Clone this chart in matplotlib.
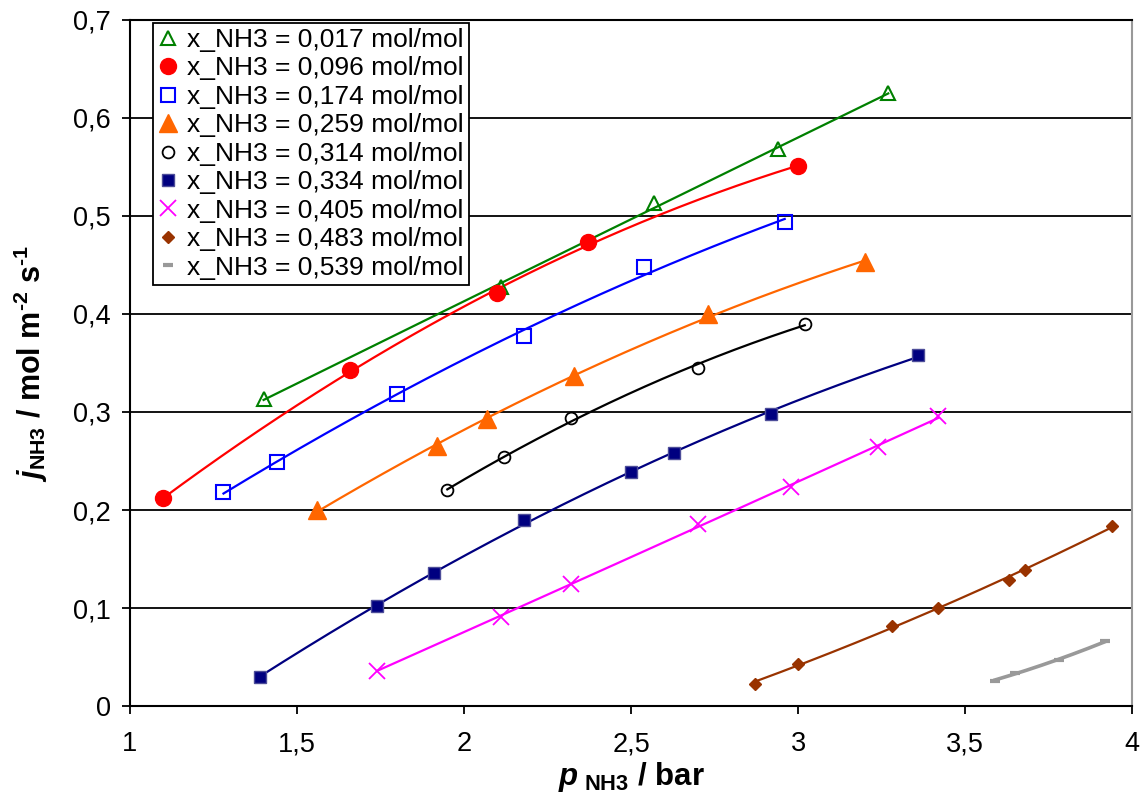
import numpy as np
import matplotlib.pyplot as plt
from matplotlib.ticker import FuncFormatter, MultipleLocator

plt.rcParams['font.family'] = ['Liberation Sans', 'DejaVu Sans']
plt.rcParams['mathtext.fontset'] = 'custom'
plt.rcParams['mathtext.rm'] = 'Liberation Sans'
plt.rcParams['mathtext.it'] = 'Liberation Sans:italic'
plt.rcParams['mathtext.bf'] = 'Liberation Sans:bold'
plt.rcParams['mathtext.bfit'] = 'Liberation Sans:bold:italic'

labels = ['x_NH3 = 0,017 mol/mol', 'x_NH3 = 0,096 mol/mol', 'x_NH3 = 0,174 mol/mol',
          'x_NH3 = 0,259 mol/mol', 'x_NH3 = 0,314 mol/mol', 'x_NH3 = 0,334 mol/mol',
          'x_NH3 = 0,405 mol/mol', 'x_NH3 = 0,483 mol/mol', 'x_NH3 = 0,539 mol/mol']

p_017 = [1.40, 2.11, 2.57, 2.94, 3.27]
j_017 = [0.313, 0.428, 0.513, 0.568, 0.625]
p_096 = [1.10, 1.66, 2.10, 2.37, 3.00]
j_096 = [0.212, 0.343, 0.421, 0.473, 0.551]
p_174 = [1.28, 1.44, 1.80, 2.18, 2.54, 2.96]
j_174 = [0.218, 0.249, 0.318, 0.378, 0.448, 0.494]
p_259 = [1.56, 1.92, 2.07, 2.33, 2.73, 3.20]
j_259 = [0.200, 0.265, 0.293, 0.337, 0.400, 0.453]
p_314 = [1.95, 2.12, 2.32, 2.70, 3.02]
j_314 = [0.220, 0.254, 0.294, 0.345, 0.390]
p_334 = [1.39, 1.74, 1.91, 2.18, 2.50, 2.63, 2.92, 3.36]
j_334 = [0.030, 0.102, 0.136, 0.190, 0.239, 0.258, 0.298, 0.358]
p_405 = [1.74, 2.11, 2.32, 2.70, 2.98, 3.24, 3.42]
j_405 = [0.036, 0.091, 0.125, 0.186, 0.223, 0.264, 0.296]
p_483 = [2.87, 3.00, 3.28, 3.42, 3.63, 3.68, 3.94]
j_483 = [0.023, 0.043, 0.082, 0.100, 0.129, 0.139, 0.184]
p_539 = [3.59, 3.65, 3.78, 3.92]
j_539 = [0.026, 0.034, 0.047, 0.066]

series = [
    (p_017, j_017, 1.6, dict(color='#008000', marker='^', ms=10, mfc='none', mew=1.5)),
    (p_096, j_096, 1.6, dict(color='#ff0000', marker='o', ms=11.5, mfc='#ff0000')),
    (p_174, j_174, 1.6, dict(color='#0000ff', marker='s', ms=9.5, mfc='none', mew=1.5)),
    (p_259, j_259, 1.6, dict(color='#ff6600', marker='^', ms=13.5, mfc='#ff6600')),
    (p_314, j_314, 1.6, dict(color='#000000', marker='o', ms=8.5, mfc='none', mew=1.3)),
    (p_334, j_334, 1.6, dict(color='#000080', marker='s', ms=9, mfc='#000080', mec='#4d4d99')),
    (p_405, j_405, 1.6, dict(color='#ff00ff', marker='x', ms=11, mew=1.3)),
    (p_483, j_483, 1.6, dict(color='#993300', marker='D', ms=6.5, mfc='#993300')),
    (p_539, j_539, 2.6, dict(color='#999999', marker='_', ms=7, mew=3)),
]

fig = plt.figure(figsize=(11.44, 7.96), dpi=100)
ax = fig.add_axes([0.1136, 0.113, 0.876, 0.862])

for (p, j, lw, st), lab in zip(series, labels):
    # Trendlinie (Polynom 2. Grades) wie in Excel
    coef = np.polyfit(p, j, 2)
    pp = np.linspace(min(p), max(p), 200)
    ax.plot(pp, np.polyval(coef, pp), color=st['color'], lw=lw, zorder=3)
    ax.plot(p, j, ls='none', label=lab, zorder=4, **st)

ax.set_xlim(1, 4)
ax.set_ylim(0, 0.7)
ax.xaxis.set_major_locator(MultipleLocator(0.5))
ax.yaxis.set_major_locator(MultipleLocator(0.1))
comma = FuncFormatter(lambda v, pos: ('%g' % round(v, 2)).replace('.', ','))
ax.xaxis.set_major_formatter(comma)
ax.yaxis.set_major_formatter(comma)
ax.tick_params(labelsize=19.5, direction='out', length=6, width=1.3, colors='black')
ax.tick_params(axis='x', pad=12)
ax.tick_params(axis='y', pad=8)
ax.yaxis.grid(True, color='black', lw=1.3)
ax.set_axisbelow(True)
for side in ['left', 'bottom', 'top']:
    ax.spines[side].set_linewidth(1.5)
ax.spines['right'].set_color('#999999')
ax.spines['right'].set_linewidth(1.5)

ax.set_xlabel(r'$\mathbfit{p}_{\ \mathbf{NH3}}\ \mathbf{/\ bar}$', fontsize=22.5)
ax.set_ylabel('$\\mathbfit{j}_{\\mathbf{NH3}}\\ \\mathbf{/\\ mol\\ m^{\u20102}\\ s^{\u20101}}$', fontsize=22)
ax.xaxis.set_label_coords(0.5, -0.078)
ax.yaxis.set_label_coords(-0.08, 0.5)

leg = ax.legend(loc='upper left', bbox_to_anchor=(0.02, 1.0), fontsize=19, frameon=True,
                fancybox=False, edgecolor='black', framealpha=1, handlelength=0.8,
                handletextpad=0.3, labelspacing=0.17, borderpad=0.2, borderaxespad=0.1)
leg.get_frame().set_linewidth(1.3)

fig.savefig('out.png', dpi=100)
